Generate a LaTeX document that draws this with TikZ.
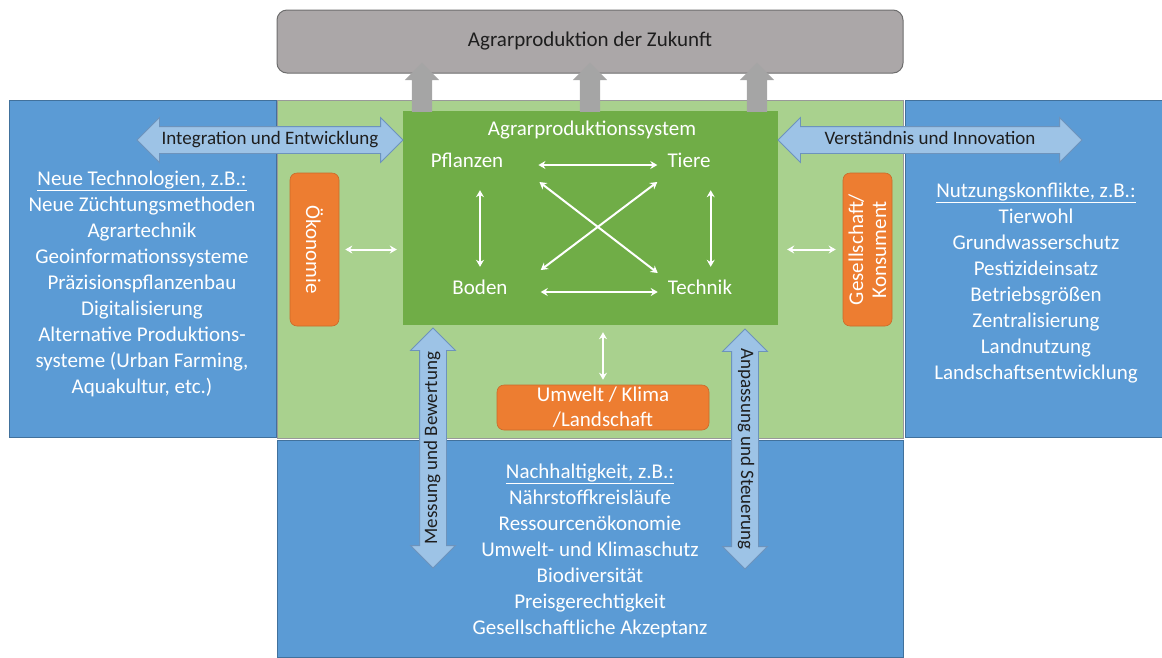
\documentclass[tikz,border=0pt]{standalone}
\usepackage{fontspec}
\setmainfont{Carlito}
\usetikzlibrary{positioning,shapes.arrows,arrows.meta}

\definecolor{blaugrund}{HTML}{5B9BD5}
\definecolor{blaurand}{HTML}{41719C}
\definecolor{hellblau}{HTML}{9DC3E6}
\definecolor{hellblaurand}{HTML}{6D93BC}
\definecolor{hellgruen}{HTML}{A9D18E}
\definecolor{gruen}{HTML}{70AD47}
\definecolor{orangefeld}{HTML}{ED7D31}
\definecolor{graufeld}{HTML}{ABA7A8}
\definecolor{graurand}{HTML}{6E6E6E}
\definecolor{graupfeilfarbe}{HTML}{A5A5A5}
\definecolor{schrift}{HTML}{1E1E1E}

\begin{document}
\begin{tikzpicture}[x=1pt, y=-1pt,
    txt/.style={font=\fontsize{21}{26}\selectfont, text=white, align=center},
    lbl/.style={txt, inner sep=0pt, text height=13pt, text depth=4pt},
    wpfeil/.style={draw=white, line width=2pt, {Stealth[length=7pt,width=8pt]}-{Stealth[length=7pt,width=8pt]}},
    blaufeld/.style={fill=blaugrund, draw=blaurand, line width=1pt},
    gruenfeld/.style={fill=hellgruen, draw=graurand!70, line width=1pt},
    orangebox/.style={txt, fill=orangefeld, draw=orangefeld!85!black, line width=0.6pt, rounded corners=7pt, inner sep=1pt},
    blaupfeil/.style={double arrow, double arrow head extend=9pt, fill=hellblau, draw=hellblaurand, line width=0.8pt,
        font=\fontsize{19}{22}\selectfont, text=schrift, text height=12pt, text depth=4pt, inner ysep=5pt, inner xsep=0pt},
    graupfeil/.style={single arrow, single arrow head extend=7pt, fill=graupfeilfarbe, draw=none,
        inner xsep=0pt, inner ysep=10pt, minimum height=49pt}
  ]
  \useasboundingbox (0,0) rectangle (1162,657);

  % Flaechen
  \draw[blaufeld] (9,100) rectangle (276,437);
  \draw[blaufeld] (905,100) rectangle (1162,437);
  \draw[blaufeld] (277,440) rectangle (903,657);
  \draw[gruenfeld] (277,100) rectangle (903,438);

  % Zukunft
  \node[fill=graufeld, draw=graurand, line width=1pt, rounded corners=10pt, minimum width=626pt, minimum height=63pt,
        font=\fontsize{21}{26}\selectfont, text=schrift] (zukunft) at (590,41.5) {Agrarproduktion der Zukunft};

  % Agrarproduktionssystem
  \node[fill=gruen, minimum width=375pt, minimum height=214pt] (system) at (590.5,218) {};
  \node[txt] (titel) at (592,130) {Agrarproduktionssystem};
  \node[lbl] (pflanzen) at (467,163) {Pflanzen};
  \node[lbl] (tiere) at (689,163) {Tiere};
  \node[lbl] (boden) at (480,290) {Boden};
  \node[lbl] (technik) at (700,290) {Technik};

  \draw[wpfeil] ([shift={(35,2)}]pflanzen.east) -- ([shift={(-10,2)}]tiere.west);
  \draw[wpfeil] ([shift={(33,2)}]boden.east) -- ([shift={(-10,2)}]technik.west);
  \draw[wpfeil, shorten <=14.5pt, shorten >=18.5pt] (boden.north) -- (boden.north |- pflanzen.south);
  \draw[wpfeil, shorten <=18.5pt, shorten >=14.5pt] (tiere.south east) -- (tiere.south east |- technik.north);
  \draw[wpfeil] ([shift={(36,19)}]pflanzen.east) -- ([shift={(-10,-17)}]technik.west);
  \draw[wpfeil] ([shift={(33,-20)}]boden.east) -- ([shift={(-10,19)}]tiere.west);

  % Einflussfaktoren
  \node[orangebox, rotate=-90, minimum width=153pt, minimum height=49pt] (oekonomie) at (314.5,249.5) {Ökonomie};
  \node[orangebox, rotate=90, minimum width=153pt, minimum height=49pt, font=\fontsize{21}{23}\selectfont]
        (gesellschaft) at (867.5,249.5) {Gesellschaft/\\Konsument};
  \node[orangebox, minimum width=212pt, minimum height=45pt, font=\fontsize{21}{25}\selectfont]
        (umwelt) at (603,407.5) {Umwelt / Klima\\/Landschaft};

  \draw[wpfeil, shorten <=6pt, shorten >=6pt] (oekonomie) -- (oekonomie -| system.west);
  \draw[wpfeil, shorten <=7pt, shorten >=9pt] (gesellschaft) -- (gesellschaft -| system.east);
  \draw[wpfeil, shorten <=5pt, shorten >=7pt] (umwelt.north) -- (umwelt.north |- system.south);

  % Verbindungen nach aussen
  \node[blaupfeil, minimum height=266pt] (integration) at (270,140) {Integration und Entwicklung};
  \node[blaupfeil, minimum height=304pt] (verstaendnis) at (930,140) {Verständnis und Innovation};
  \node[blaupfeil, rotate=90, minimum height=240pt] (messung) at (433,448) {Messung und Bewertung};
  \node[blaupfeil, rotate=-90, minimum height=240pt] (anpassung) at (745,449) {Anpassung und Steuerung};

  % Texte
  \node[txt] (technologien) at (142,284) {\underline{Neue Technologien, z.B.:}\\Neue Züchtungsmethoden\\Agrartechnik\\
        Geoinformationssysteme\\Präzisionspflanzenbau\\Digitalisierung\\Alternative Produktions-\\
        systeme (Urban Farming,\\Aquakultur, etc.)};
  \node[txt] (konflikte) at (1036,283) {\underline{Nutzungskonflikte, z.B.:}\\Tierwohl\\Grundwasserschutz\\Pestizideinsatz\\
        Betriebsgrößen\\Zentralisierung\\Landnutzung\\Landschaftsentwicklung};
  \node[txt] (nachhaltigkeit) at (590,551) {\underline{Nachhaltigkeit, z.B.:}\\Nährstoffkreisläufe\\Ressourcenökonomie\\
        Umwelt- und Klimaschutz\\Biodiversität\\Preisgerechtigkeit\\Gesellschaftliche Akzeptanz};

  % Pfeile zur Zukunft
  \foreach \px/\nm in {422/a, 590/b, 757/c}
    \node[graupfeil, rotate=90] (hoch\nm) at (\px,92.5) {};
\end{tikzpicture}
\end{document}
